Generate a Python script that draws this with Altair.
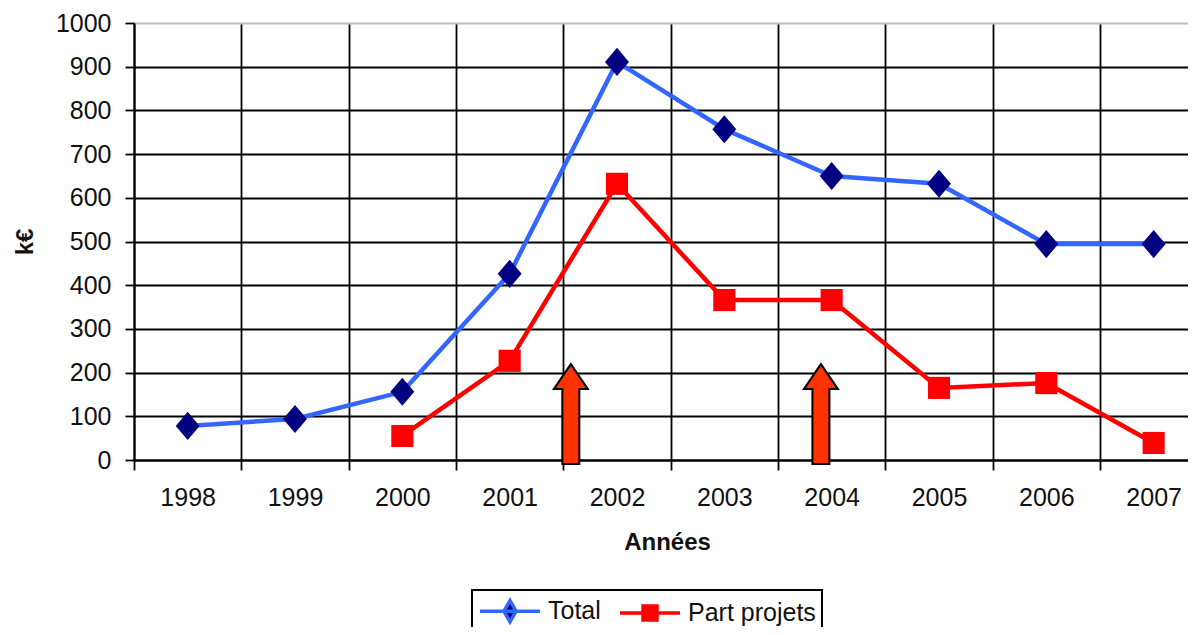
import altair as alt
import pandas as pd

# ---- data ----
years = [1998, 1999, 2000, 2001, 2002, 2003, 2004, 2005, 2006, 2007]
total = [78, 94, 156, 426, 911, 757, 650, 632, 494, 494]
projets = [None, None, 55, 227, 632, 366, 366, 165, 176, 39]
series = ["Total", "Part projets"]
y_ticks = [0, 100, 200, 300, 400, 500, 600, 700, 800, 900, 1000]
arrow_years = [2001.57, 2003.9]
arrow_mid = [105, 105]

rows = []
for yr, v in zip(years, total):
    rows.append({"year": yr, "value": v, "series": "Total"})
for yr, v in zip(years, projets):
    if v is not None:
        rows.append({"year": yr, "value": v, "series": "Part projets"})
df = pd.DataFrame(rows)
arrows = pd.DataFrame({"year": arrow_years, "value": arrow_mid})

FONT = "Liberation Sans"
half_years = [y - 0.5 for y in years]
x_values = sorted(half_years + years)

x_scale = alt.Scale(domain=[years[0] - 0.5, years[-1] + 0.32], nice=False, zero=False)
y_scale = alt.Scale(domain=[0, 1000], nice=False)

is_year = "datum.value % 1 == 0"
x_axis = alt.Axis(
    values=x_values,
    labelExpr="datum.value % 1 == 0 ? toString(datum.value) : ''",
    grid=True, gridColor="black", gridWidth=1.8,
    gridOpacity={"condition": {"test": is_year, "value": 0}, "value": 1},
    ticks=True, tickSize=10, tickColor="black", tickWidth=1.8,
    tickOpacity={"condition": {"test": is_year, "value": 0}, "value": 1},
    domainColor="black", domainWidth=2,
    labelFont=FONT, labelFontSize=25, labelColor="#111", labelPadding=15,
    title="Années", titleFont=FONT, titleFontSize=24, titleFontWeight="bold",
    titleColor="#111", titlePadding=20, titleX=533,
)
y_axis = alt.Axis(
    values=y_ticks, format="d",
    grid=True, gridWidth=1.8,
    gridColor={"condition": {"test": "datum.value == 1000", "value": "#bdbdbd"}, "value": "black"},
    tickSize=9, tickColor="black", tickWidth=1.8,
    domainColor="black", domainWidth=2,
    labelFont=FONT, labelFontSize=25, labelColor="#111", labelPadding=14,
    title="k€", titleFont=FONT, titleFontSize=24, titleFontWeight="bold",
    titleColor="#111", titlePadding=18,
)

X = alt.X("year:Q", scale=x_scale, axis=x_axis)
Y = alt.Y("value:Q", scale=y_scale, axis=y_axis)

stroke_scale = alt.Scale(domain=series, range=["#3366FF", "#FF0000"])
fill_scale = alt.Scale(domain=series, range=["#000080", "#FF0000"])

diamond_path = "M0,-1.08L0.92,0L0,1.08L-0.92,0Z"
square_path = "M-0.85,-0.85L0.85,-0.85L0.85,0.85L-0.85,0.85Z"
# legend symbols: line segment with marker (nominal slot 26px, drawn 60px wide)
leg_total = "M-1,0L3.615,0M1.308,-0.82L1.78,0L1.308,0.82L0.836,0Z"
leg_proj = "M-1,0L3.615,0M0.77,-0.54L1.846,-0.54L1.846,0.54L0.77,0.54Z"
arrow_path = "M0,-1L0.34,-0.5L0.17,-0.5L0.17,1L-0.17,1L-0.17,-0.5L-0.34,-0.5Z"

base = alt.Chart(df)

lines = base.mark_line(strokeWidth=4.5).encode(
    x=X, y=Y,
    stroke=alt.Stroke("series:N", scale=stroke_scale, legend=None, title=None),
)

pts_total = base.transform_filter(alt.datum.series == "Total").mark_point(
    shape=diamond_path, filled=True, fill="#000080", size=676, strokeWidth=0, opacity=1
).encode(x=X, y=Y)

pts_proj = base.transform_filter(alt.datum.series == "Part projets").mark_point(
    shape=square_path, filled=True, fill="#FF0000", size=676, strokeWidth=0, opacity=1
).encode(x=X, y=Y)

leg = alt.Legend(
    orient="none", legendX=338, legendY=567, direction="horizontal",
    labelFont=FONT, labelFontSize=25, labelColor="#111",
    symbolSize=676, symbolStrokeWidth=3.5, labelOffset=40,
    columnPadding=12, padding=6, strokeColor="black", labelLimit=400,
)
legend_layer = base.mark_point(filled=True, size=1, strokeWidth=3.5, opacity=1).encode(
    x=X, y=Y,
    shape=alt.Shape("series:N", scale=alt.Scale(domain=series, range=[leg_total, leg_proj]),
                    legend=leg, title=None),
    fill=alt.Fill("series:N", scale=fill_scale, legend=leg, title=None),
    stroke=alt.Stroke("series:N", scale=stroke_scale, legend=leg, title=None),
)

arrow_layer = alt.Chart(arrows).mark_point(
    shape=arrow_path, filled=True, fill="#FF3300", stroke="black", strokeWidth=2,
    size=10000, opacity=1
).encode(x=X, y=Y)

chart = alt.layer(legend_layer, lines, pts_total, pts_proj, arrow_layer).properties(
    width=1054, height=437,
    autosize=alt.AutoSizeParams(type="none"),
    padding={"left": 126, "top": 15, "right": 0, "bottom": 167},
    background="white",
).configure_view(strokeWidth=0).configure_legend(strokeWidth=2)

chart.save("out.html", embed_options={"renderer": "svg", "actions": False})
